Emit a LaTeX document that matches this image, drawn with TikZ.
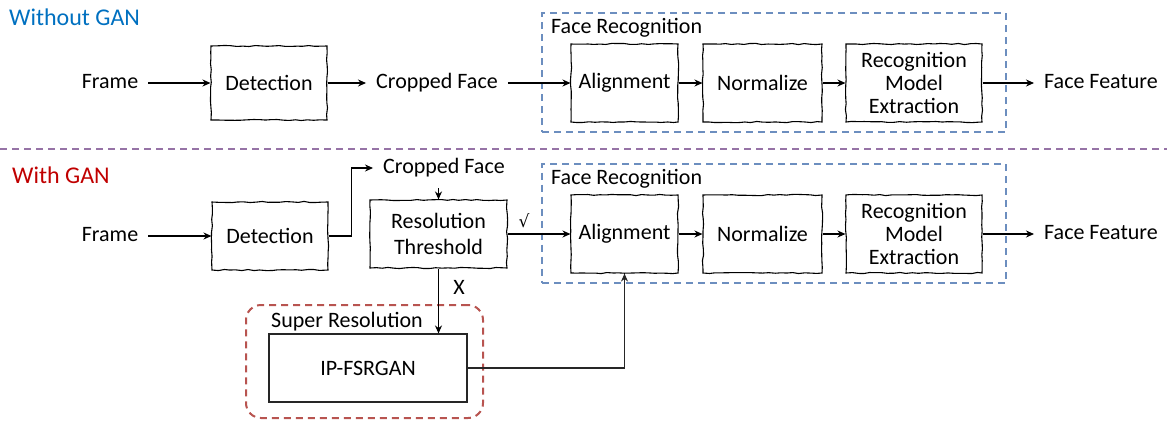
\documentclass[tikz,border=0pt]{standalone}
\usepackage{fontspec}
\setmainfont{Carlito}
\newfontfamily\symfont{DejaVu Sans}
\usetikzlibrary{arrows.meta,decorations.pathmorphing}
\definecolor{skyblue}{RGB}{0,112,192}
\definecolor{crimson}{RGB}{192,0,0}
\definecolor{frblue}{RGB}{108,142,191}
\definecolor{srred}{RGB}{184,84,80}
\definecolor{lilac}{RGB}{150,115,166}
\tikzset{
  >={Stealth[length=8pt,width=7pt]},
  sketch/.style={draw,line width=1.1pt,align=center,inner sep=0pt,
    minimum width=#1,minimum height=78pt,
    decorate,decoration={random steps,segment length=6pt,amplitude=0.6pt}},
  sketch/.default=116pt,
  plain box/.style={draw=black!85,line width=1.1pt,minimum width=198pt,minimum height=68pt},
  lbl/.style={inner xsep=10pt,inner ysep=3pt,text height=14pt,text depth=4pt},
  group/.style={draw=#1,line width=2pt,dash pattern=on 7pt off 5pt,inner sep=0pt},
  group/.default=frblue,
  flow/.style={->,line width=1.1pt},
  divider/.style={draw=lilac,line width=2pt,dash pattern=on 7pt off 5pt},
  title/.style={font=\fontsize{24}{28}\selectfont,text=#1,anchor=west,inner sep=0pt},
}

\begin{document}
\begin{tikzpicture}[x=1pt,y=-1pt,font=\fontsize{22}{23}\selectfont]
  \useasboundingbox (0,0) rectangle (1167,421);
  \pgfmathsetseed{11}
  % without GAN
  \node[title=skyblue] (wo) at (9,17) {Without GAN};
  \node[lbl] (frame1) at (110,83) {Frame};
  \node[sketch,minimum height=74pt] (det1) at (269,83) {Detection};
  \node[lbl] (crop1) at (437,83) {Cropped Face};
  \draw[divider] (0,149) -- (1167,149);
  % with GAN
  \node[title=crimson] (wi) at (12,175) {With GAN};
  \node[lbl] (frame2) at (110,236) {Frame};
  \node[sketch,minimum height=68pt] (det2) at (270,236) {Detection};
  \node[lbl] (crop2) at (444,168) {Cropped Face};
  \node[sketch=137pt,minimum height=68pt] (res) at (438.5,234) {Resolution\\[3pt]Threshold};
  \node (ok) at (524,221) {\symfont\fontsize{17}{20}\selectfont √};
  \node (nok) at (459,287) {X};
  \node[group=srred,rounded corners=15pt,minimum width=237pt,minimum height=113pt] (sr) at (364.5,361.5) {};
  \node[anchor=west,inner sep=0pt] (srl) at (271,322) {Super Resolution};
  \node[plain box] (ip) at (368,368) {IP-FSRGAN};
  % face recognition, both rows
  \foreach \r/\y/\fy in {1/83/72.5,2/234/223}{
    \node[group,minimum width=464pt,minimum height=119pt] (fr\r) at (774,\fy) {};
    \node[anchor=west,inner sep=0pt] (frl\r) at (551,\y-55) {Face Recognition};
    \node[sketch=107pt] (al\r) at (624.5,\y) {Alignment};
    \node[sketch=119pt] (no\r) at (762.5,\y) {Normalize};
    \node[sketch=136pt] (re\r) at (914,\y) {Recognition\\Model\\Extraction};
    \node[lbl] (ff\r) at (1101,\y) {Face Feature};
    \draw[flow] (al\r) -- (no\r);
    \draw[flow] (no\r) -- (re\r);
    \draw[flow] (re\r) -- (ff\r);
  }
  \draw[flow] (frame1) -- (det1);
  \draw[flow] (det1) -- (crop1);
  \draw[flow] (crop1) -- (al1);
  \draw[flow] (frame2) -- (det2);
  \draw[flow] (det2.east) -- ++(23,0) |- (crop2.west);
  \draw[flow,shorten <=8pt] (res.north |- crop2.south) -- (res.north);
  \draw[flow] (res) -- (al2);
  \draw[flow] (res.south) -- (res.south |- ip.north);
  \draw[flow,draw=black!85] (ip.east) -| (al2.south);
\end{tikzpicture}
\end{document}
